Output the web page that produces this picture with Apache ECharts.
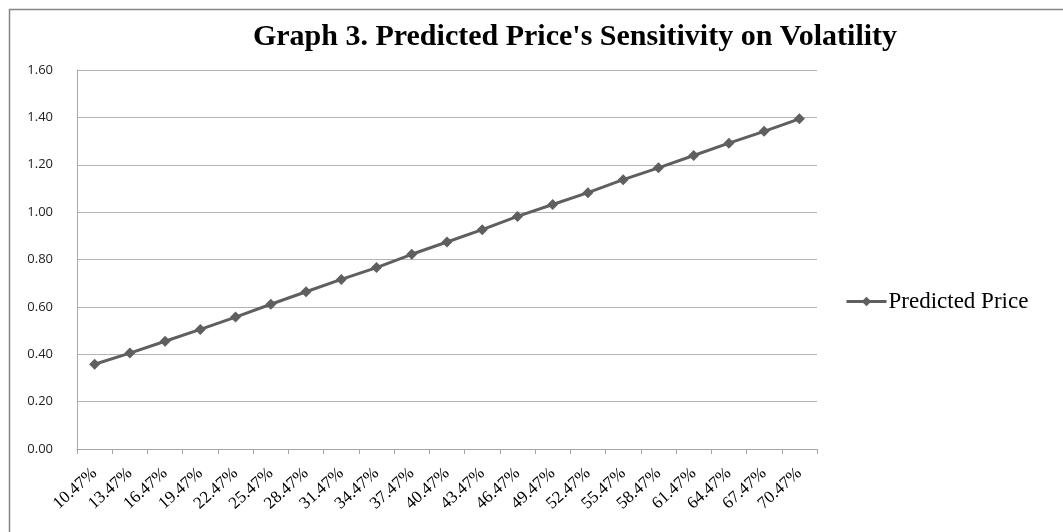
<!DOCTYPE html>
<html>
<head>
<meta charset="utf-8">
<script src="https://cdn.jsdelivr.net/npm/echarts@6/dist/echarts.min.js"></script>
<style>html,body{margin:0;padding:0;background:#fff}#c{width:1063px;height:532px}</style>
</head>
<body>
<div id="c"></div>
<script>
const categories = ['10.47%','13.47%','16.47%','19.47%','22.47%','25.47%','28.47%','31.47%','34.47%','37.47%','40.47%','43.47%','46.47%','49.47%','52.47%','55.47%','58.47%','61.47%','64.47%','67.47%','70.47%'];
const predictedPrice = [0.358,0.405,0.455,0.505,0.557,0.611,0.664,0.716,0.766,0.822,0.874,0.926,0.982,1.032,1.082,1.137,1.187,1.239,1.291,1.341,1.394];
const seriesName = 'Predicted Price';
const titleText = "Graph 3. Predicted Price's Sensitivity on Volatility";

const chart = echarts.init(document.getElementById('c'));
chart.setOption({
  animation: false,
  backgroundColor: '#fff',
  title: {
    text: titleText, left: 570, top: 17, textAlign: 'center',
    textStyle: { fontFamily: 'Liberation Serif', fontWeight: 'bold', fontSize: 30, color: '#000' }
  },
  graphic: [{
    type: 'rect', shape: { x: 9.5, y: 9.5, width: 1060, height: 530 },
    style: { fill: 'none', stroke: '#868686', lineWidth: 1.5 }, silent: true
  }],
  legend: {
    data: [seriesName], left: 840, top: 285, orient: 'vertical',
    itemWidth: 40, itemHeight: 12, itemGap: 4,
    lineStyle: { width: 3, color: '#5f5f5f' },
    itemStyle: { color: '#5f5f5f' },
    textStyle: { fontFamily: 'Liberation Serif', fontSize: 23, color: '#000', padding: [0, 0, 0, -3] }
  },
  grid: { left: 77, right: 246, top: 70, bottom: 83 },
  xAxis: {
    type: 'category', data: categories, boundaryGap: true,
    axisLine: { lineStyle: { color: '#a6a6a6', width: 1 } },
    axisTick: { show: true, length: 5, alignWithLabel: false, lineStyle: { color: '#a6a6a6' } },
    axisLabel: { rotate: 42, interval: 0, margin: 22, fontFamily: 'Liberation Serif', fontSize: 17, color: '#000' }
  },
  yAxis: {
    type: 'value', min: 0, max: 1.6, interval: 0.2,
    axisLine: { show: true, lineStyle: { color: '#a6a6a6', width: 1 } },
    axisTick: { show: false },
    splitLine: { lineStyle: { color: '#b3b3b3', width: 1 } },
    axisLabel: { formatter: v => v.toFixed(2), margin: 24, fontFamily: 'Open Sans', fontSize: 13, color: '#222' }
  },
  series: [{
    name: seriesName, type: 'line', data: predictedPrice,
    symbol: 'diamond', symbolSize: 11,
    lineStyle: { color: '#5f5f5f', width: 3 },
    itemStyle: { color: '#5f5f5f' }
  }]
});
</script>
</body>
</html>
